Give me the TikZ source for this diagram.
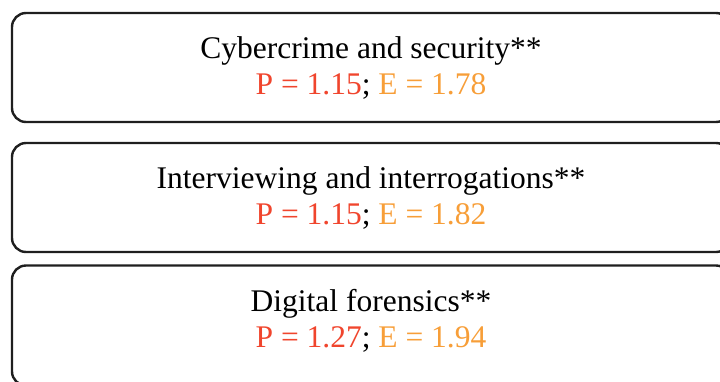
\documentclass[tikz,border=0pt]{standalone}
\usepackage{fontspec}
\setmainfont{Liberation Serif}
\definecolor{pred}{HTML}{F0452D}
\definecolor{eorange}{HTML}{F79E38}
\begin{document}
\begin{tikzpicture}[x=1pt,y=-1pt,
  topic/.style={draw=black!88, line width=2.4pt, rounded corners=14pt,
    minimum width=718pt, inner sep=0pt},
  label/.style={align=center, inner sep=0pt, font=\fontsize{31.5}{35.5}\selectfont}]
\useasboundingbox (0,0) rectangle (720,381);
\node[topic, minimum height=109pt] (b1) at (371,67.5) {};
\node[topic, minimum height=109pt] (b2) at (371,197.5) {};
\node[topic, minimum height=120pt] (b3) at (371,325.5) {};
\node[label] (t1) at (371,68) {Cybercrime and security**\\
  \textcolor{pred}{P = 1.15}; \textcolor{eorange}{E = 1.78}};
\node[label] (t2) at (371,198) {Interviewing and interrogations**\\
  \textcolor{pred}{P = 1.15}; \textcolor{eorange}{E = 1.82}};
\node[label] (t3) at (371,321) {Digital forensics**\\
  \textcolor{pred}{P = 1.27}; \textcolor{eorange}{E = 1.94}};
\end{tikzpicture}
\end{document}
